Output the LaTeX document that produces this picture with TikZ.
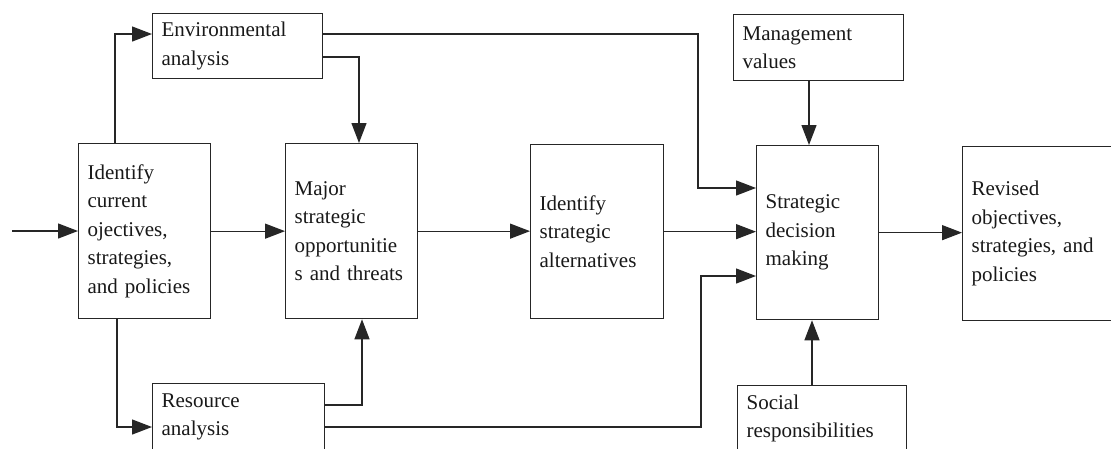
\documentclass[tikz,border=0pt]{standalone}
\usepackage{fontspec}
\setmainfont{Liberation Serif}
\usetikzlibrary{arrows.meta}
\begin{document}
\begin{tikzpicture}[x=1pt,y=-1pt,
  box/.style={draw=black!85, line width=1.3pt, anchor=north west,
    align=left, inner xsep=9pt, inner ysep=0pt,
    font=\fontsize{21}{28.5}\selectfont, text=black!90},
  arr/.style={draw=black!85, line width=1.3pt,
    -{Triangle[length=20pt,width=15pt]}}]
\clip (0,0) rectangle (1111,448);
\fill[white] (0,0) rectangle (1111,448);

% boxes
\node[box, minimum width=170pt, minimum height=65pt, text width=152pt] (env) at (152,13)
  {Environmental\\analysis};
\node[box, minimum width=132pt, minimum height=175pt, text width=114pt] (cur) at (78,143)
  {Identify\\current\\ojectives,\\strategies,\\and policies};
\node[box, minimum width=132pt, minimum height=175pt, text width=114pt] (maj) at (285,143)
  {Major\\strategic\\opportunitie\\s and threats};
\node[box, minimum width=133pt, minimum height=174pt, text width=115pt] (isa) at (530,144)
  {Identify\\strategic\\alternatives};
\node[box, minimum width=122pt, minimum height=174pt, text width=104pt] (sdm) at (756,145)
  {Strategic\\decision\\making};
\node[box, minimum width=170pt, minimum height=174pt, text width=152pt] (rev) at (962,146)
  {Revised\\objectives,\\strategies, and\\policies};
\node[box, minimum width=170pt, minimum height=66pt, text width=152pt] (mgt) at (733,14)
  {Management\\values};
\node[box, minimum width=169pt, minimum height=66pt, text width=151pt] (soc) at (737,385)
  {Social\\responsibilities};
\node[box, minimum width=172pt, minimum height=66pt, text width=154pt] (res) at (152,383)
  {Resource\\analysis};

% connectors
\coordinate (in) at (12,231);
\draw[arr] (in) -- (in -| cur.west);
\draw[arr] ([xshift=37pt]cur.north west) |- ([yshift=-21pt]env.north west);
\draw[arr] ([xshift=39pt]cur.south west) |- ([yshift=-44pt]res.north west);
\draw[arr] (cur.east) -- (cur.east -| maj.west);
\draw[arr] ([yshift=-44pt]env.north east) -| ([xshift=74pt]maj.north west);
\draw[arr] ([yshift=-21pt]env.north east) -| ([xshift=-58pt,yshift=-43pt]sdm.north west)
  -- ([yshift=-43pt]sdm.north west);
\draw[arr] (maj.east) -- (maj.east -| isa.west);
\draw[arr] (isa.east) -- (isa.east -| sdm.west);
\draw[arr] ([yshift=-22pt]res.north east) -| ([xshift=77pt]maj.south west);
\draw[arr] ([yshift=-44pt]res.north east) -| ([xshift=-55pt,yshift=-131pt]sdm.north west)
  -- ([yshift=-131pt]sdm.north west);
\coordinate (sdmT) at ([xshift=53pt]sdm.north west);
\coordinate (sdmB) at ([xshift=56pt]sdm.south west);
\draw[arr] (mgt.south -| sdmT) -- (sdmT);
\draw[arr] (soc.north -| sdmB) -- (sdmB);
\draw[arr] (sdm.east) -- (sdm.east -| rev.west);
\end{tikzpicture}
\end{document}
